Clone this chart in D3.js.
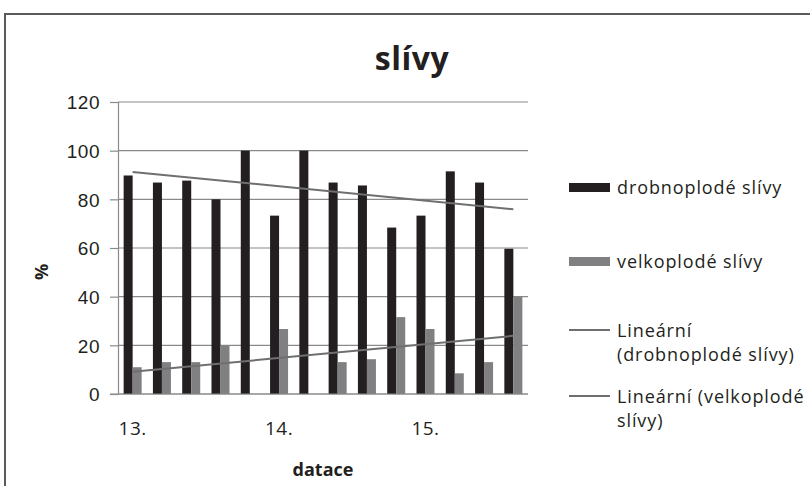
<!DOCTYPE html>
<html>
<head>
<meta charset="utf-8">
<script src="https://cdn.jsdelivr.net/npm/d3@7"></script>
<style>
  html, body { margin: 0; padding: 0; background: #ffffff; }
  svg { display: block; font-family: "Open Sans", "DejaVu Sans", sans-serif; }
</style>
</head>
<body>
<div id="chart"></div>
<script>
// Sample groups along the dating axis (14 groups, labelled every fifth)
const categories = ["1", "2", "3", "4", "5", "6", "7", "8", "9", "10", "11", "12", "13", "14"];
const tickLabels = ["13.", "", "", "", "", "14.", "", "", "", "", "15.", "", "", ""];

// Share of plums (%) per group
const smallPlums = [89.8, 86.9, 87.7, 80, 100, 73.3, 100, 86.9, 85.7, 68.4, 73.3, 91.5, 86.9, 59.7];
const largePlums = [11, 13.1, 13.1, 20, 0, 26.7, 0, 13.1, 14.3, 31.6, 26.7, 8.5, 13.1, 40];

const yTicks = [0, 20, 40, 60, 80, 100, 120];

const seriesNames = ["drobnoplodé slívy", "velkoplodé slívy"];
const trendNames = [["Lineární", "(drobnoplodé slívy)"], ["Lineární (velkoplodé", "slívy)"]];

const W = 810, H = 486;
const plot = { left: 118, right: 528, top: 102, bottom: 394 };
const colors = ["#231f20", "#808083"];
const trendColor = "#6f6f71";
const textColor = "#231f20";

const svg = d3.select("#chart").append("svg")
  .attr("width", W).attr("height", H);

// Outer chart frame
svg.append("rect")
  .attr("x", 5).attr("y", 14)
  .attr("width", 830).attr("height", 520)
  .attr("fill", "none")
  .attr("stroke", "#5a5a5a")
  .attr("stroke-width", 2);

const x = d3.scaleBand()
  .domain(categories)
  .range([plot.left, plot.right])
  .paddingInner(0.385)
  .paddingOuter(0.1925);

const xSub = d3.scaleBand()
  .domain([0, 1])
  .range([0, x.bandwidth()]);

const y = d3.scaleLinear()
  .domain([0, 120])
  .range([plot.bottom, plot.top]);

// Horizontal gridlines
svg.append("g")
  .selectAll("line")
  .data(yTicks)
  .join("line")
  .attr("x1", plot.left).attr("x2", plot.right)
  .attr("y1", d => y(d)).attr("y2", d => y(d))
  .attr("stroke", "#8a8a8a")
  .attr("stroke-width", 1.2);

// Y axis
const yAxis = d3.axisLeft(y).tickValues(yTicks).tickSize(8).tickPadding(10);
const gy = svg.append("g")
  .attr("transform", `translate(${plot.left},0)`)
  .call(yAxis);
gy.select(".domain").attr("stroke", "#8a8a8a").attr("stroke-width", 1.2);
gy.selectAll(".tick line").attr("stroke", "#8a8a8a").attr("stroke-width", 1.2);
gy.selectAll(".tick text")
  .attr("fill", textColor)
  .style("font-size", "19px")
  .style("letter-spacing", "0.5px")
  .attr("dy", "0.36em");

// Bars
const series = [smallPlums, largePlums];
series.forEach((vals, s) => {
  svg.append("g")
    .selectAll("rect")
    .data(vals)
    .join("rect")
    .attr("x", (d, i) => x(categories[i]) + xSub(s))
    .attr("width", xSub.bandwidth())
    .attr("y", d => y(d))
    .attr("height", d => y(0) - y(d))
    .attr("fill", colors[s]);
});

// Baseline over the bars
svg.append("line")
  .attr("x1", plot.left - 8).attr("x2", plot.right)
  .attr("y1", y(0)).attr("y2", y(0))
  .attr("stroke", "#8a8a8a").attr("stroke-width", 1.2);

// Linear trendlines (least squares over group index)
function linearFit(vals) {
  const xs = vals.map((d, i) => i + 1);
  const mx = d3.mean(xs), my = d3.mean(vals);
  let sxy = 0, sxx = 0;
  xs.forEach((xi, i) => { sxy += (xi - mx) * (vals[i] - my); sxx += (xi - mx) * (xi - mx); });
  const slope = sxy / sxx;
  return t => my + slope * (t - mx);
}
const cx = i => x(categories[i]) + x.bandwidth() / 2;
series.forEach(vals => {
  const f = linearFit(vals);
  const n = vals.length;
  svg.append("line")
    .attr("x1", cx(0)).attr("y1", y(f(1)))
    .attr("x2", cx(n - 1)).attr("y2", y(f(n)))
    .attr("stroke", trendColor)
    .attr("stroke-width", 2);
});

// Category labels
svg.append("g")
  .selectAll("text")
  .data(categories.map((c, i) => ({ c, label: tickLabels[i] })).filter(d => d.label))
  .join("text")
  .attr("x", d => x(d.c) + x.bandwidth() / 2)
  .attr("y", 435)
  .attr("text-anchor", "middle")
  .attr("fill", textColor)
  .style("font-size", "19px")
  .style("letter-spacing", "0.5px")
  .text(d => d.label);

// Title
svg.append("text")
  .attr("x", 412).attr("y", 70)
  .attr("text-anchor", "middle")
  .attr("fill", textColor)
  .style("font-size", "32px")
  .style("font-weight", "bold")
  .style("letter-spacing", "0.5px")
  .text("slívy");

// Axis titles
svg.append("text")
  .attr("x", 323).attr("y", 476)
  .attr("text-anchor", "middle")
  .attr("fill", textColor)
  .style("font-size", "18px")
  .style("font-weight", "bold")
  .text("datace");

svg.append("text")
  .attr("transform", "translate(48,272) rotate(-90)")
  .attr("text-anchor", "middle")
  .attr("fill", textColor)
  .style("font-size", "18px")
  .style("font-weight", "bold")
  .text("%");

// Legend
const lg = svg.append("g").style("font-size", "18px").attr("fill", textColor);
const barItems = [{ y: 194 }, { y: 268 }];
barItems.forEach((it, s) => {
  lg.append("rect")
    .attr("x", 569).attr("y", it.y - 11)
    .attr("width", 41).attr("height", 9)
    .attr("fill", colors[s]);
  lg.append("text")
    .attr("x", 617).attr("y", it.y)
    .style("letter-spacing", "0.9px")
    .text(seriesNames[s]);
});
const lineItems = [{ y: 337 }, { y: 403 }];
lineItems.forEach((it, s) => {
  lg.append("line")
    .attr("x1", 569).attr("x2", 610)
    .attr("y1", it.y - 7).attr("y2", it.y - 7)
    .attr("stroke", trendColor).attr("stroke-width", 2);
  trendNames[s].forEach((t, k) => {
    lg.append("text")
      .attr("x", 617).attr("y", it.y + k * 24)
      .style("letter-spacing", "0.9px")
      .text(t);
  });
});
</script>
</body>
</html>
